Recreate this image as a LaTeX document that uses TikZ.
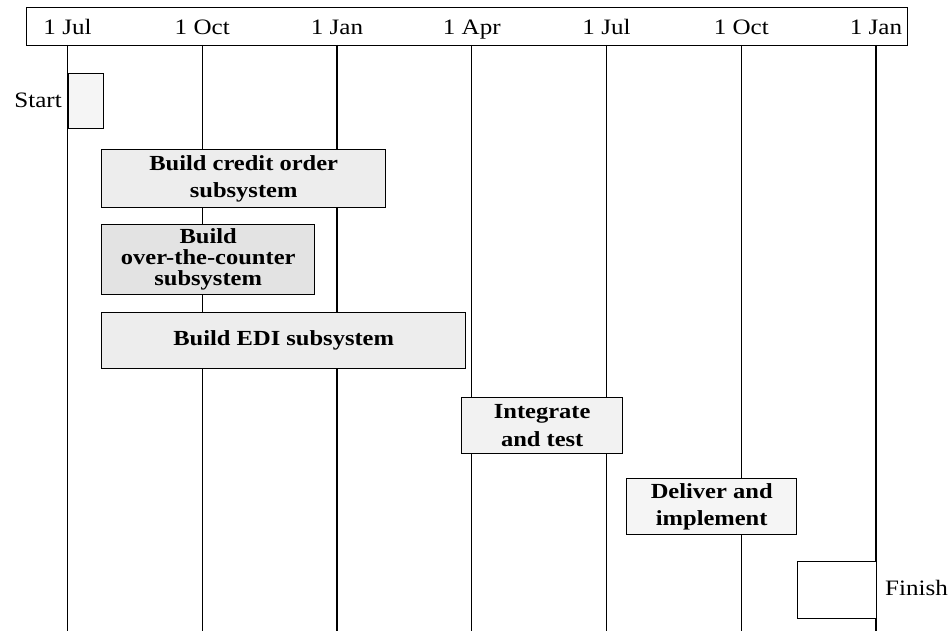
\documentclass[tikz,border=0pt]{standalone}
\usepackage{fontspec}
\setmainfont{Liberation Serif}[FakeStretch=1.14]
\begin{document}
\begin{tikzpicture}[x=1pt,y=-1pt,
  datelabel/.style={anchor=base,inner sep=0pt,font=\fontsize{22}{24}\selectfont},
  sidelabel/.style={inner sep=0pt,font=\fontsize{22}{24}\selectfont},
  gridline/.style={line width=1.1pt},
  task/.style={draw,line width=1.4pt,anchor=north west,inner sep=0pt,align=center,
    fill=black!7,font=\fontsize{21.5}{27.5}\selectfont\bfseries},
  milestone/.style={task,fill=black!4}
]
\useasboundingbox (0,0) rectangle (952,631);

% time scale header
\node[draw,line width=1.2pt,anchor=north west,minimum width=881pt,minimum height=38pt,inner sep=0pt] (header) at (26,7) {};

% quarter marks: label, top of grid line, bottom of grid line
\foreach \i/\d/\x in {0/1 Jul/67.5, 1/1 Oct/202.25, 2/1 Jan/337, 3/1 Apr/471.75,
                      4/1 Jul/606.5, 5/1 Oct/741.25, 6/1 Jan/876} {
  \node[datelabel] (lab\i) at (\x,35) {\d};
  \coordinate (top\i) at (\x,45);
  \coordinate (bot\i) at (\x,631);
  \draw[gridline] (top\i) -- (bot\i);
}

% activities
\node[milestone,minimum width=35pt,minimum height=55pt] (start) at (68,73) {};
\node[task,minimum width=284pt,minimum height=58pt] (credit) at (101,149)
  {Build credit order\\subsystem};
\node[task,fill=black!11,minimum width=213pt,minimum height=70pt,
      font=\fontsize{21.5}{21}\selectfont\bfseries] (otc) at (101,224)
  {Build\\over-the-counter\\subsystem};
\node[task,minimum width=364pt,minimum height=56pt] (edi) at (101,312)
  {Build EDI subsystem};
\node[task,fill=black!5,minimum width=161pt,minimum height=56pt] (integ) at (461,397)
  {Integrate\\and test};
\node[task,fill=black!4,minimum width=170pt,minimum height=56pt] (deliver) at (626,478)
  {Deliver and\\implement};
\node[task,fill=white,minimum width=79pt,minimum height=57pt] (finish) at (797,561) {};

% milestone names
\node[sidelabel,anchor=base east] (startlab) at (62,108) {Start};
\node[sidelabel,anchor=base west] (finishlab) at (885,595) {Finish};
\end{tikzpicture}
\end{document}
